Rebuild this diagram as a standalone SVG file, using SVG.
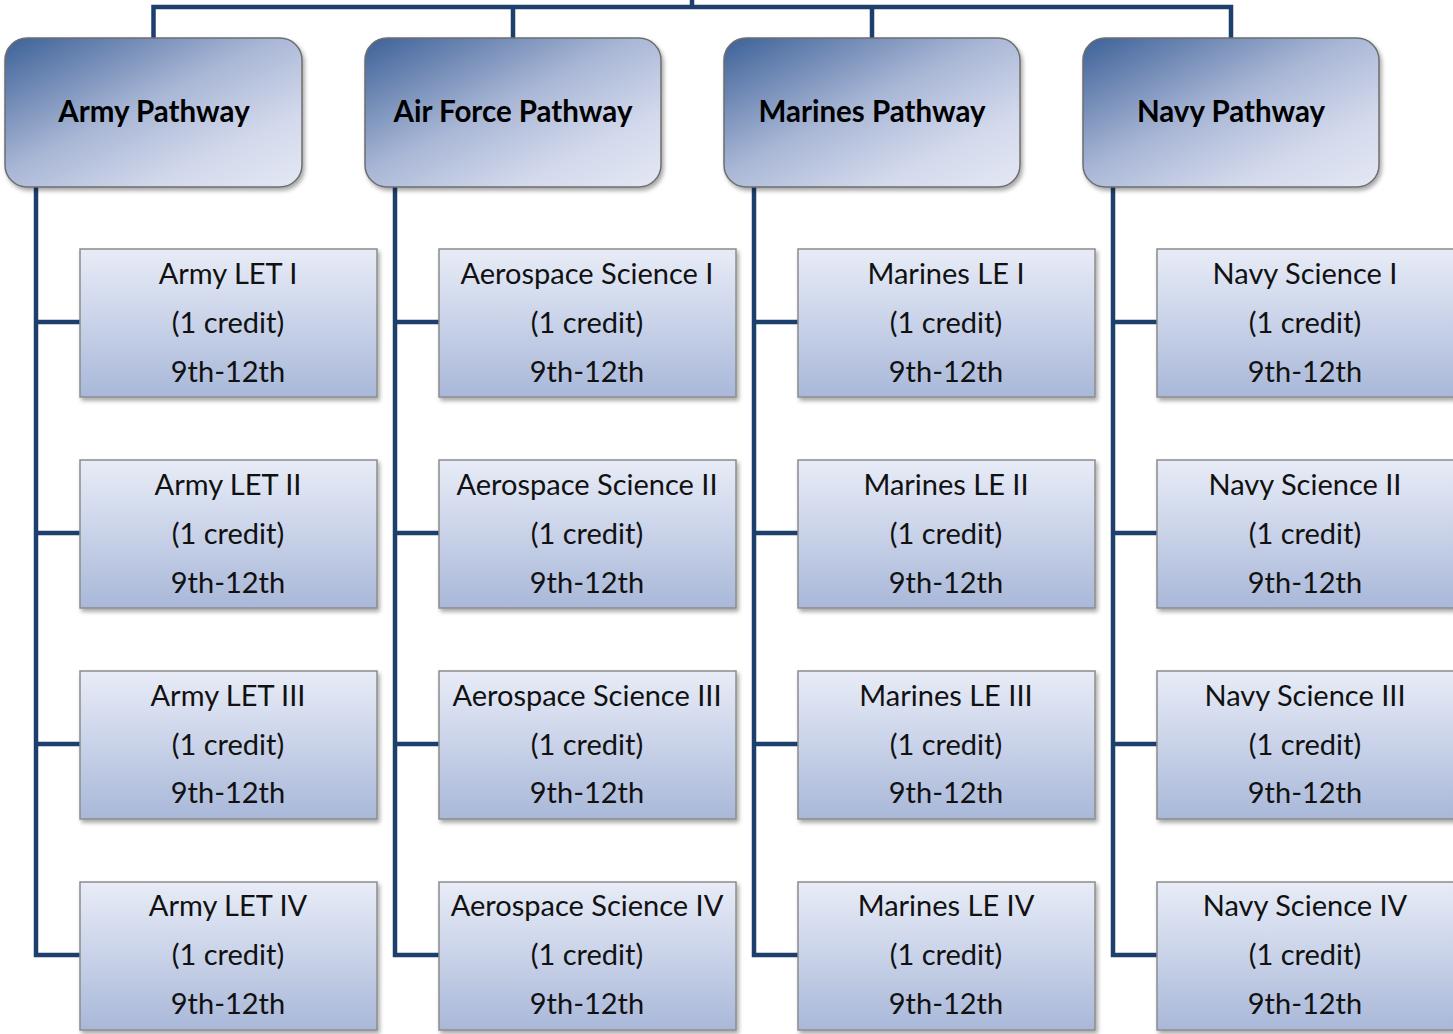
<svg xmlns="http://www.w3.org/2000/svg" width="1453" height="1034" viewBox="0 0 1453 1034">
  <defs>
    <linearGradient id="gHead" x1="0" y1="0" x2="1" y2="1">
      <stop offset="0" stop-color="#3d6198"/>
      <stop offset="0.45" stop-color="#a8b6d5"/>
      <stop offset="0.75" stop-color="#d3d9ec"/>
      <stop offset="1" stop-color="#e4e8f4"/>
    </linearGradient>
    <linearGradient id="gChild" x1="0" y1="0" x2="0" y2="1">
      <stop offset="0" stop-color="#e8ecf7"/>
      <stop offset="1" stop-color="#a9b8d9"/>
    </linearGradient>
    <filter id="shadow" x="-5%" y="-5%" width="112%" height="115%">
      <feDropShadow dx="2" dy="3" stdDeviation="2" flood-color="#000" flood-opacity="0.35"/>
    </filter>
  </defs>
  <style>
    .head rect { fill: url(#gHead); stroke: #6e6e6e; stroke-width: 1.5; filter: url(#shadow); }
    .child rect { fill: url(#gChild); stroke: #8c8c8c; stroke-width: 1.5; filter: url(#shadow); }
    .head text { font-family: Lato, "Liberation Sans", sans-serif; font-weight: bold; font-size: 29.5px; fill: #000; text-anchor: middle; }
    .child text { font-family: Lato, "Liberation Sans", sans-serif; font-size: 29px; fill: #111; text-anchor: middle; }
    #connectors path { fill: none; stroke: #1d3f6e; stroke-width: 4.5; stroke-linejoin: miter; }
  </style>
  <rect width="1453" height="1034" fill="#fff"/>

  <g id="connectors">
    <path d="M692 0 V7 M153.5 38 V7 H1231 V38 M513 7 V38 M872 7 V38"/>
    <path d="M36 187 V955 H80 M36 322 H80 M36 533 H80 M36 744 H80"/>
    <path d="M395 187 V955 H439 M395 322 H439 M395 533 H439 M395 744 H439"/>
    <path d="M754 187 V955 H798 M754 322 H798 M754 533 H798 M754 744 H798"/>
    <path d="M1113 187 V955 H1157 M1113 322 H1157 M1113 533 H1157 M1113 744 H1157"/>
  </g>

  <g id="army" class="head"><rect x="5" y="38" width="297" height="149" rx="22"/><text x="154" y="122">Army Pathway</text></g>
  <g id="airforce" class="head"><rect x="365" y="38" width="296" height="149" rx="22"/><text x="513" y="122">Air Force Pathway</text></g>
  <g id="marines" class="head"><rect x="724" y="38" width="296" height="149" rx="22"/><text x="872" y="122">Marines Pathway</text></g>
  <g id="navy" class="head"><rect x="1083" y="38" width="296" height="149" rx="22"/><text x="1231" y="122">Navy Pathway</text></g>

  <g id="army1" class="child"><rect x="80" y="249" width="297" height="148"/><text x="228" y="284">Army LET I</text><text x="228" y="333">(1 credit)</text><text x="228" y="382">9th-12th</text></g>
  <g id="army2" class="child"><rect x="80" y="460" width="297" height="148"/><text x="228" y="495">Army LET II</text><text x="228" y="544">(1 credit)</text><text x="228" y="593">9th-12th</text></g>
  <g id="army3" class="child"><rect x="80" y="671" width="297" height="148"/><text x="228" y="706">Army LET III</text><text x="228" y="755">(1 credit)</text><text x="228" y="803">9th-12th</text></g>
  <g id="army4" class="child"><rect x="80" y="882" width="297" height="148"/><text x="228" y="916">Army LET IV</text><text x="228" y="965">(1 credit)</text><text x="228" y="1014">9th-12th</text></g>

  <g id="aero1" class="child"><rect x="439" y="249" width="297" height="148"/><text x="587" y="284">Aerospace Science I</text><text x="587" y="333">(1 credit)</text><text x="587" y="382">9th-12th</text></g>
  <g id="aero2" class="child"><rect x="439" y="460" width="297" height="148"/><text x="587" y="495">Aerospace Science II</text><text x="587" y="544">(1 credit)</text><text x="587" y="593">9th-12th</text></g>
  <g id="aero3" class="child"><rect x="439" y="671" width="297" height="148"/><text x="587" y="706">Aerospace Science III</text><text x="587" y="755">(1 credit)</text><text x="587" y="803">9th-12th</text></g>
  <g id="aero4" class="child"><rect x="439" y="882" width="297" height="148"/><text x="587" y="916">Aerospace Science IV</text><text x="587" y="965">(1 credit)</text><text x="587" y="1014">9th-12th</text></g>

  <g id="marines1" class="child"><rect x="798" y="249" width="297" height="148"/><text x="946" y="284">Marines LE I</text><text x="946" y="333">(1 credit)</text><text x="946" y="382">9th-12th</text></g>
  <g id="marines2" class="child"><rect x="798" y="460" width="297" height="148"/><text x="946" y="495">Marines LE II</text><text x="946" y="544">(1 credit)</text><text x="946" y="593">9th-12th</text></g>
  <g id="marines3" class="child"><rect x="798" y="671" width="297" height="148"/><text x="946" y="706">Marines LE III</text><text x="946" y="755">(1 credit)</text><text x="946" y="803">9th-12th</text></g>
  <g id="marines4" class="child"><rect x="798" y="882" width="297" height="148"/><text x="946" y="916">Marines LE IV</text><text x="946" y="965">(1 credit)</text><text x="946" y="1014">9th-12th</text></g>

  <g id="navy1" class="child"><rect x="1157" y="249" width="297" height="148"/><text x="1305" y="284">Navy Science I</text><text x="1305" y="333">(1 credit)</text><text x="1305" y="382">9th-12th</text></g>
  <g id="navy2" class="child"><rect x="1157" y="460" width="297" height="148"/><text x="1305" y="495">Navy Science II</text><text x="1305" y="544">(1 credit)</text><text x="1305" y="593">9th-12th</text></g>
  <g id="navy3" class="child"><rect x="1157" y="671" width="297" height="148"/><text x="1305" y="706">Navy Science III</text><text x="1305" y="755">(1 credit)</text><text x="1305" y="803">9th-12th</text></g>
  <g id="navy4" class="child"><rect x="1157" y="882" width="297" height="148"/><text x="1305" y="916">Navy Science IV</text><text x="1305" y="965">(1 credit)</text><text x="1305" y="1014">9th-12th</text></g>
</svg>
